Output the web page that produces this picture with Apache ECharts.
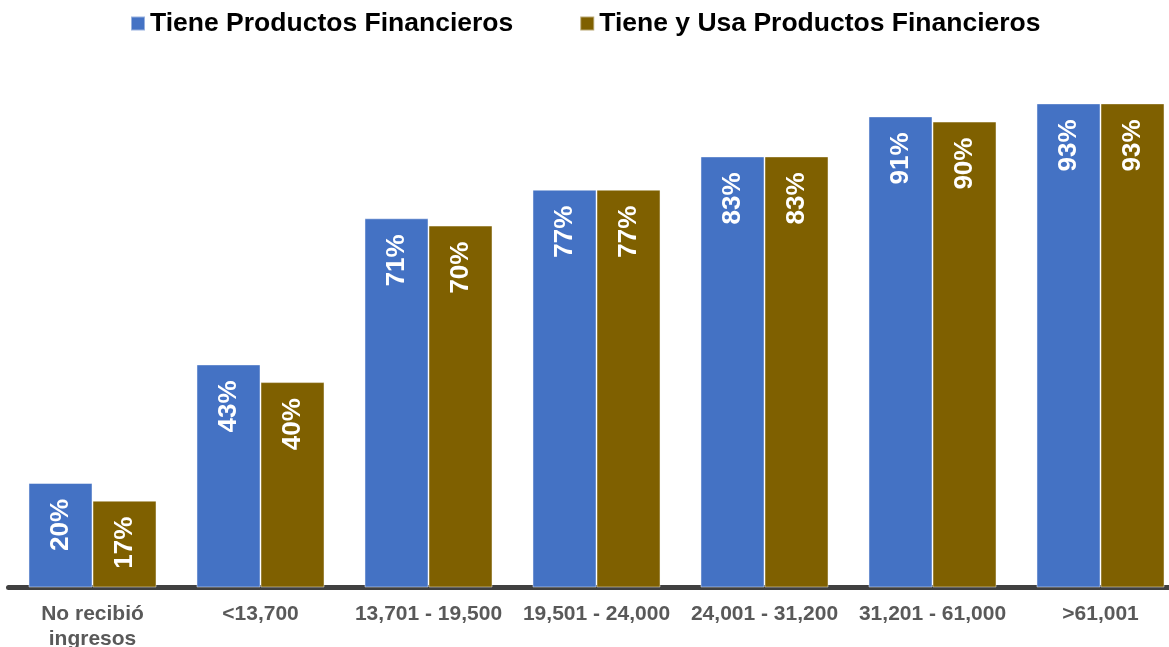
<!DOCTYPE html>
<html>
<head>
<meta charset="utf-8">
<script src="https://cdn.jsdelivr.net/npm/echarts@6/dist/echarts.min.js"></script>
<style>
html,body{margin:0;padding:0;background:#fff;}
#chart{width:1169px;height:647px;}
</style>
</head>
<body>
<div id="chart"></div>
<script>
const categories = ['No recibió\ningresos', '<13,700', '13,701 - 19,500', '19,501 - 24,000', '24,001 - 31,200', '31,201 - 61,000', '>61,001'];
const seriesNames = ['Tiene Productos Financieros', 'Tiene y Usa Productos Financieros'];
const tieneValues = [20.1, 42.9, 71.0, 76.5, 82.9, 90.6, 93.1];
const usaValues = [16.7, 39.5, 69.6, 76.5, 82.9, 89.6, 93.1];
const colors = ['#4472C4', '#7F6000'];

const FONT = '"Liberation Sans", Arial, sans-serif';

const labelOpt = {
  show: true,
  position: 'insideTop',
  rotate: 90,
  align: 'right',
  verticalAlign: 'middle',
  distance: 16,
  color: '#ffffff',
  fontFamily: FONT,
  fontWeight: 'bold',
  fontSize: 26,
  formatter: p => Math.round(p.value) + '%'
};

const chart = echarts.init(document.getElementById('chart'), null, {renderer: 'canvas'});
chart.setOption({
  animation: false,
  backgroundColor: '#ffffff',
  legend: {
    top: 5,
    left: 125,
    itemWidth: 14,
    itemHeight: 14,
    itemGap: 66,
    icon: 'rect',
    textStyle: {fontFamily: FONT, fontWeight: 'bold', fontSize: 26.5, color: '#000000'},
    data: seriesNames
  },
  grid: {left: 8.5, width: 1176, top: 67.5, bottom: 59.5, containLabel: false, outerBoundsMode: 'none'},
  xAxis: {
    type: 'category',
    data: categories,
    axisLine: {show: true, lineStyle: {color: '#404040', width: 5}},
    axisTick: {show: false},
    axisLabel: {
      interval: 0,
      margin: 14,
      color: '#595959',
      fontFamily: FONT,
      fontWeight: 'bold',
      fontSize: 21,
      lineHeight: 25
    }
  },
  yAxis: {
    type: 'value',
    min: 0,
    max: 100,
    show: false,
    splitLine: {show: false}
  },
  series: [
    {
      name: seriesNames[0],
      type: 'bar',
      data: tieneValues,
      barGap: '0%',
      barCategoryGap: '23.8%',
      itemStyle: {color: colors[0], borderColor: 'rgba(255,255,255,0.45)', borderWidth: 1},
      label: labelOpt
    },
    {
      name: seriesNames[1],
      type: 'bar',
      data: usaValues,
      barGap: '0%',
      barCategoryGap: '23.8%',
      itemStyle: {color: colors[1], borderColor: 'rgba(255,255,255,0.45)', borderWidth: 1},
      label: labelOpt
    }
  ]
});
</script>
</body>
</html>
